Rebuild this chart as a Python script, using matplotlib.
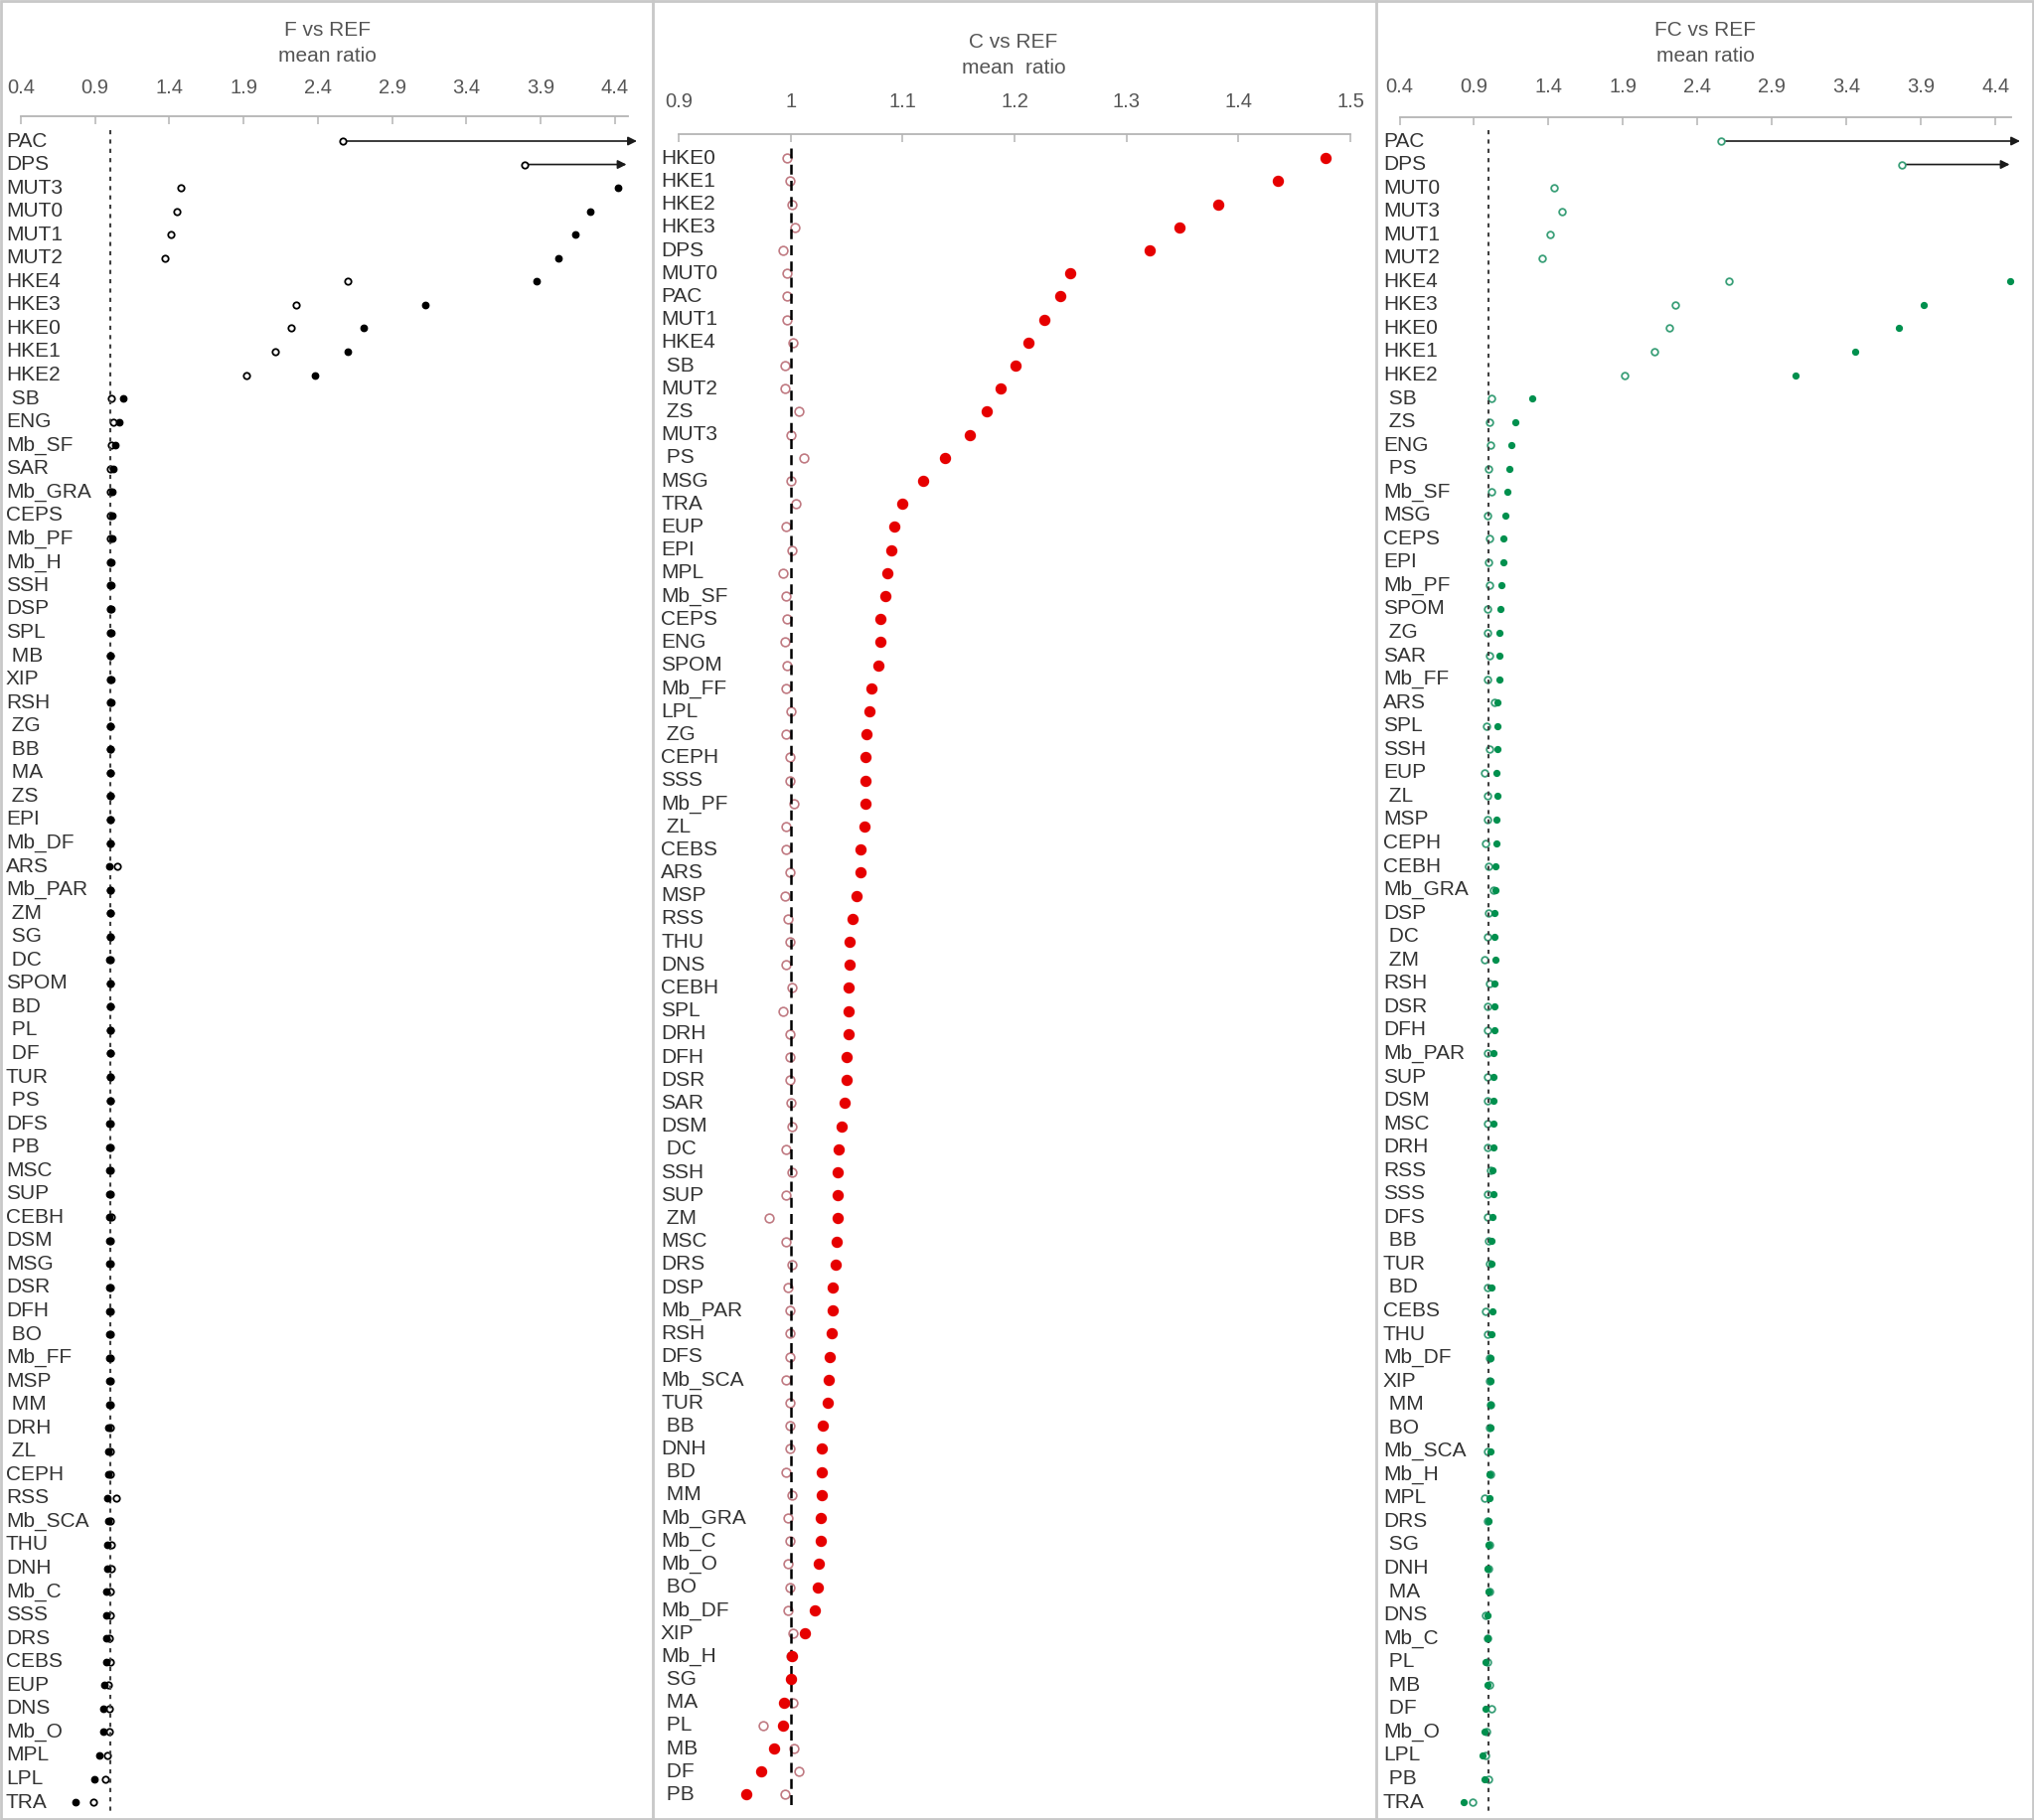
import numpy as np
import matplotlib
matplotlib.use('Agg')
from matplotlib import pyplot as plt
from matplotlib.lines import Line2D
from matplotlib.patches import Rectangle
from matplotlib.transforms import blended_transform_factory

inf, nan = np.inf, np.nan

# ---- F vs REF (inf = beyond the axis, drawn as an arrow) ----
f_labels = ['PAC', 'DPS', 'MUT3', 'MUT0', 'MUT1', 'MUT2', 'HKE4', 'HKE3', 'HKE0', 'HKE1',
            'HKE2', 'SB', 'ENG', 'Mb_SF', 'SAR', 'Mb_GRA', 'CEPS', 'Mb_PF', 'Mb_H', 'SSH',
            'DSP', 'SPL', 'MB', 'XIP', 'RSH', 'ZG', 'BB', 'MA', 'ZS', 'EPI',
            'Mb_DF', 'ARS', 'Mb_PAR', 'ZM', 'SG', 'DC', 'SPOM', 'BD', 'PL', 'DF',
            'TUR', 'PS', 'DFS', 'PB', 'MSC', 'SUP', 'CEBH', 'DSM', 'MSG', 'DSR',
            'DFH', 'BO', 'Mb_FF', 'MSP', 'MM', 'DRH', 'ZL', 'CEPH', 'RSS', 'Mb_SCA',
            'THU', 'DNH', 'Mb_C', 'SSS', 'DRS', 'CEBS', 'EUP', 'DNS', 'Mb_O', 'MPL',
            'LPL', 'TRA']
f_open = [2.57, 3.79, 1.48, 1.45, 1.41, 1.37, 2.60, 2.25, 2.22, 2.11,
          1.92, 1.01, 1.02, 1.01, 1.005, 1.0, 1.0, 1.0, 1.0, 1.0,
          1.0, 1.0, 1.0, 1.0, 1.0, 1.0, 1.0, 1.0, 1.0, 1.0,
          1.0, 1.047, 1.0, 1.0, 1.0, 1.0, 1.0, 1.0, 1.0, 1.0,
          1.0, 1.0, 1.0, 1.0, 1.0, 1.0, 1.012, 1.0, 1.0, 1.0,
          1.0, 1.0, 1.0, 1.0, 1.0, 1.0, 1.0, 1.0, 1.04, 1.0,
          1.006, 1.006, 1.0, 1.0, 0.998, 1.0, 0.991, 0.998, 0.996, 0.984,
          0.967, 0.89]
f_fill = [inf, inf, 4.42, 4.23, 4.13, 4.02, 3.87, 3.12, 2.71, 2.60,
          2.38, 1.09, 1.06, 1.035, 1.025, 1.018, 1.013, 1.013, 1.009, 1.009,
          1.007, 1.007, 1.004, 1.006, 1.006, 1.003, 1.003, 1.003, 1.003, 1.0,
          1.0, 0.996, 1.0, 1.0, 1.0, 0.996, 1.0, 1.0, 1.0, 1.0,
          1.0, 1.002, 0.998, 0.998, 0.998, 0.998, 0.993, 0.996, 0.996, 0.996,
          0.996, 0.996, 0.996, 0.994, 0.996, 0.991, 0.991, 0.987, 0.98, 0.991,
          0.985, 0.985, 0.978, 0.978, 0.973, 0.973, 0.962, 0.958, 0.953, 0.929,
          0.895, 0.77]

# ---- C vs REF ----
c_labels = ['HKE0', 'HKE1', 'HKE2', 'HKE3', 'DPS', 'MUT0', 'PAC', 'MUT1', 'HKE4', 'SB',
            'MUT2', 'ZS', 'MUT3', 'PS', 'MSG', 'TRA', 'EUP', 'EPI', 'MPL', 'Mb_SF',
            'CEPS', 'ENG', 'SPOM', 'Mb_FF', 'LPL', 'ZG', 'CEPH', 'SSS', 'Mb_PF', 'ZL',
            'CEBS', 'ARS', 'MSP', 'RSS', 'THU', 'DNS', 'CEBH', 'SPL', 'DRH', 'DFH',
            'DSR', 'SAR', 'DSM', 'DC', 'SSH', 'SUP', 'ZM', 'MSC', 'DRS', 'DSP',
            'Mb_PAR', 'RSH', 'DFS', 'Mb_SCA', 'TUR', 'BB', 'DNH', 'BD', 'MM', 'Mb_GRA',
            'Mb_C', 'Mb_O', 'BO', 'Mb_DF', 'XIP', 'Mb_H', 'SG', 'MA', 'PL', 'MB',
            'DF', 'PB']
c_open = [0.997, 0.999, 1.001, 1.004, 0.993, 0.997, 0.997, 0.997, 1.002, 0.995,
          0.995, 1.007, 1.0, 1.012, 1.0, 1.005, 0.996, 1.001, 0.993, 0.996,
          0.997, 0.995, 0.997, 0.996, 1.0, 0.996, 0.999, 0.999, 1.003, 0.996,
          0.996, 0.999, 0.995, 0.998, 0.999, 0.996, 1.001, 0.993, 0.999, 0.999,
          0.999, 1.0, 1.001, 0.996, 1.001, 0.996, 0.981, 0.996, 1.001, 0.998,
          0.999, 0.999, 0.999, 0.996, 0.999, 0.999, 0.999, 0.996, 1.001, 0.998,
          0.999, 0.998, 0.999, 0.998, 1.002, 1.0, 1.0, 1.002, 0.975, 1.003,
          1.007, 0.995]
c_fill = [1.478, 1.435, 1.382, 1.347, 1.321, 1.250, 1.241, 1.227, 1.212, 1.201,
          1.188, 1.175, 1.160, 1.138, 1.118, 1.100, 1.093, 1.090, 1.086, 1.085,
          1.080, 1.080, 1.078, 1.072, 1.070, 1.068, 1.067, 1.067, 1.067, 1.066,
          1.062, 1.062, 1.059, 1.055, 1.053, 1.053, 1.052, 1.052, 1.052, 1.050,
          1.050, 1.048, 1.046, 1.043, 1.042, 1.042, 1.042, 1.041, 1.040, 1.038,
          1.038, 1.037, 1.035, 1.034, 1.033, 1.029, 1.028, 1.028, 1.028, 1.027,
          1.027, 1.025, 1.024, 1.022, 1.013, 1.001, 1.000, 0.994, 0.993, 0.985,
          0.974, 0.960]

# ---- FC vs REF (nan = not shown) ----
fc_labels = ['PAC', 'DPS', 'MUT0', 'MUT3', 'MUT1', 'MUT2', 'HKE4', 'HKE3', 'HKE0', 'HKE1',
             'HKE2', 'SB', 'ZS', 'ENG', 'PS', 'Mb_SF', 'MSG', 'CEPS', 'EPI', 'Mb_PF',
             'SPOM', 'ZG', 'SAR', 'Mb_FF', 'ARS', 'SPL', 'SSH', 'EUP', 'ZL', 'MSP',
             'CEPH', 'CEBH', 'Mb_GRA', 'DSP', 'DC', 'ZM', 'RSH', 'DSR', 'DFH', 'Mb_PAR',
             'SUP', 'DSM', 'MSC', 'DRH', 'RSS', 'SSS', 'DFS', 'BB', 'TUR', 'BD',
             'CEBS', 'THU', 'Mb_DF', 'XIP', 'MM', 'BO', 'Mb_SCA', 'Mb_H', 'MPL', 'DRS',
             'SG', 'DNH', 'MA', 'DNS', 'Mb_C', 'PL', 'MB', 'DF', 'Mb_O', 'LPL',
             'PB', 'TRA']
fc_open = [2.56, 3.77, 1.44, 1.49, 1.41, 1.36, 2.61, 2.25, 2.21, 2.11,
           1.91, 1.02, 1.004, 1.007, 1.0, 1.016, 0.989, 1.004, 1.0, 1.004,
           0.993, 0.989, 1.004, 0.989, 1.038, 0.984, 1.004, 0.967, 0.987, 0.987,
           0.978, 1.0, 1.03, 1.0, 0.987, 0.973, 1.004, 0.989, 0.989, 0.989,
           0.989, 0.993, 0.989, 0.989, 1.01, 0.987, 0.989, 1.0, 1.004, 0.989,
           0.978, 0.993, 1.004, 1.004, 1.007, 1.004, 0.993, 1.009, 0.973, 0.989,
           1.004, 1.0, 1.004, 0.978, 0.993, 0.989, 1.004, 1.016, 0.982, 0.978,
           1.0, 0.89]
fc_fill = [inf, inf, nan, nan, nan, nan, 4.50, 3.92, 3.75, 3.46,
           3.06, 1.29, 1.18, 1.147, 1.14, 1.122, 1.111, 1.10, 1.096, 1.084,
           1.078, 1.073, 1.069, 1.067, 1.06, 1.06, 1.06, 1.051, 1.056, 1.051,
           1.051, 1.044, 1.044, 1.04, 1.04, 1.044, 1.038, 1.038, 1.038, 1.033,
           1.033, 1.033, 1.029, 1.029, 1.022, 1.029, 1.022, 1.016, 1.016, 1.016,
           1.022, 1.016, 1.011, 1.011, 1.011, 1.011, 1.007, 1.004, 1.004, 1.0,
           1.0, 0.993, 1.0, 0.989, 0.989, 0.978, 0.993, 0.978, 0.967, 0.956,
           0.973, 0.83]

wide_ticks = [0.4, 0.9, 1.4, 1.9, 2.4, 2.9, 3.4, 3.9, 4.4]
wide_ticklabels = ['0.4', '0.9', '1.4', '1.9', '2.4', '2.9', '3.4', '3.9', '4.4']
narrow_ticks = [0.9, 1.0, 1.1, 1.2, 1.3, 1.4, 1.5]
narrow_ticklabels = ['0.9', '1', '1.1', '1.2', '1.3', '1.4', '1.5']

W, H, DPI = 2047, 1832, 100
plt.rcParams['font.family'] = ['Liberation Sans', 'DejaVu Sans']

LABEL_C = '#333333'
TEXT_C = '#555555'
AXIS_C = '#b4b4b4'

fig = plt.figure(figsize=(W / DPI, H / DPI), dpi=DPI)


def panel(x0, x1, axis_y, row0, step, xlim, ticks, ticklabels, pad, label_x,
          title_x, title_y, title, subtitle, labels, opened, filled,
          open_style, fill_style, ref_style):
    bottom = 1826
    ax = fig.add_axes([x0 / W, 1 - bottom / H, (x1 - x0) / W, (bottom - axis_y) / H])
    n = len(labels)
    ax.set_xlim(*xlim)
    ax.set_ylim((bottom - row0) / step, (axis_y - row0) / step)
    for s in ['left', 'right', 'bottom']:
        ax.spines[s].set_visible(False)
    ax.spines['top'].set_color(AXIS_C)
    ax.spines['top'].set_linewidth(1.3)
    ax.xaxis.set_ticks_position('top')
    ax.set_xticks(ticks)
    ax.set_xticklabels(ticklabels)
    ax.tick_params(axis='x', direction='in', length=5.5, width=1.1, color=AXIS_C,
                   labelsize=14.5, labelcolor=TEXT_C, pad=pad)
    ax.set_yticks([])
    ax.patch.set_visible(False)

    trans = blended_transform_factory(fig.transFigure, ax.transData)
    for i, lab in enumerate(labels):
        txt = lab if len(lab) > 2 else ' ' + lab
        ax.text(label_x / W, i, txt, transform=trans, ha='left', va='center',
                fontsize=15, color=LABEL_C)

    y = np.arange(n)
    o = np.array(opened, dtype=float)
    f = np.array(filled, dtype=float)

    ax.plot(o, y, linestyle='none', zorder=3, clip_on=False, **open_style)
    ax.vlines(1.0, -0.45, n - 0.55, zorder=4, **ref_style)
    ok = np.isfinite(f)
    ax.plot(f[ok], y[ok], linestyle='none', zorder=5, clip_on=False, **fill_style)

    # values beyond the axis: arrow from the open point past the edge
    over = [0.06, -0.01]
    k = 0
    for i in np.where(np.isinf(f))[0]:
        ax.annotate('', xy=(xlim[1] + over[k % 2], i), xytext=(o[i], i),
                    arrowprops=dict(arrowstyle='-|>', color='#1a1a1a', lw=1.2,
                                    mutation_scale=13, shrinkA=3, shrinkB=0),
                    annotation_clip=False, zorder=2)
        k += 1

    fig.text(title_x / W, 1 - title_y / H, title, ha='center', va='center',
             fontsize=15, color=TEXT_C)
    fig.text(title_x / W, 1 - (title_y + 25) / H, subtitle, ha='center', va='center',
             fontsize=15, color=TEXT_C)
    return ax


panel(21, 632, 117, 142, 23.55, (0.4, 4.487), wide_ticks, wide_ticklabels, 14, 6,
      329, 31, 'F vs REF', 'mean ratio', f_labels, f_open, f_fill,
      dict(marker='o', ms=4.6, mfc='white', mec='black', mew=1.3),
      dict(marker='o', ms=4.6, color='black'),
      dict(colors='#404040', linewidth=1.5, linestyles=(0, (2, 2.5))))

panel(683, 1359, 135, 159.3, 23.2, (0.9, 1.5), narrow_ticks, narrow_ticklabels, 16.5, 665,
      1020, 43, 'C vs REF', 'mean  ratio', c_labels, c_open, c_fill,
      dict(marker='o', ms=6.3, mfc='white', mec='#c07a82', mew=1.2),
      dict(marker='o', ms=7.2, color='#e60000'),
      dict(colors='black', linewidth=1.8, linestyles=(0, (4, 2.5))))

panel(1408.5, 2024, 118, 142, 23.55, (0.4, 4.505), wide_ticks, wide_ticklabels, 15, 1392,
      1716, 31, 'FC vs REF', 'mean ratio', fc_labels, fc_open, fc_fill,
      dict(marker='o', ms=4.8, mfc='white', mec='#3a9f78', mew=1.3),
      dict(marker='o', ms=4.2, color='#00904e'),
      dict(colors='#404040', linewidth=1.5, linestyles=(0, (2, 2.5))))

# frame and panel dividers
fig.add_artist(Rectangle((0.0005, 0.0005), 0.999, 0.999, transform=fig.transFigure,
                         fill=False, ec='#c8c8c8', lw=2))
for xd in [657, 1385]:
    fig.add_artist(Line2D([xd / W, xd / W], [0, 1], transform=fig.transFigure,
                          color='#c8c8c8', lw=2))

fig.savefig('out.png', dpi=DPI, facecolor='white')
